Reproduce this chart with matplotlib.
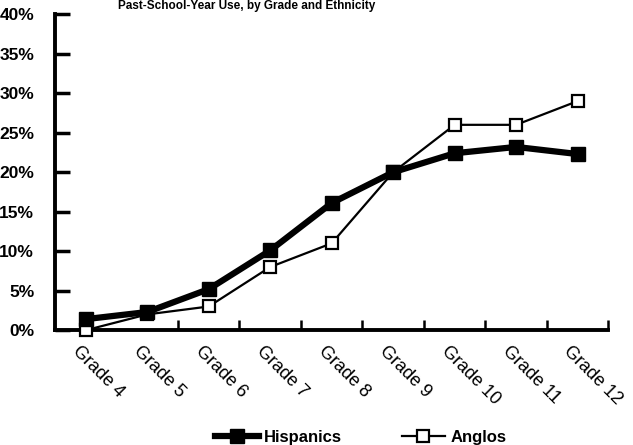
import matplotlib
matplotlib.use("Agg")
import matplotlib.pyplot as plt

plt.rcParams['font.family'] = ['Liberation Sans', 'DejaVu Sans']

# ========= DATA =========
grades = ["Grade 4", "Grade 5", "Grade 6", "Grade 7", "Grade 8",
          "Grade 9", "Grade 10", "Grade 11", "Grade 12"]
hispanics = [1.4, 2.3, 5.2, 10.1, 16.1, 20.0, 22.4, 23.2, 22.3]
anglos = [0.0, 2.0, 3.0, 8.0, 11.0, 20.0, 26.0, 26.0, 29.0]
yticks = [0, 5, 10, 15, 20, 25, 30, 35, 40]
title = "Past-School-Year Use, by Grade and Ethnicity"
# ========================

fig = plt.figure(figsize=(6.33, 4.45), dpi=100)
ax = fig.add_axes([0.087, 0.258, 0.874, 0.71])

x = list(range(len(grades)))
ax.plot(x, anglos, color='black', lw=1.6, marker='s', ms=8,
        mfc='white', mec='black', mew=1.6, zorder=3, clip_on=False,
        label='Anglos')
ax.plot(x, hispanics, color='black', lw=4.5, marker='s', ms=10.5,
        mfc='black', mec='black', zorder=4, clip_on=False,
        label='Hispanics')

ax.set_xlim(-0.5, len(grades) - 0.5)
ax.set_ylim(0, 40)

# y axis: inward ticks, bold percent labels
ax.set_yticks(yticks)
ax.set_yticklabels([f"{v}%" for v in yticks], fontsize=12.5, fontweight='bold')
ax.tick_params(axis='y', direction='in', length=11, width=2.5, pad=15)

# x axis: ticks at category boundaries, labels rotated
ax.set_xticks([i + 0.5 for i in range(1, len(grades))])
ax.set_xticklabels([])
ax.tick_params(axis='x', direction='in', length=7, width=1.8)
for i, g in enumerate(grades):
    ax.text(i - 0.08, -1.6, g, rotation=-45, rotation_mode='anchor',
            ha='left', va='top', fontsize=13)

for s in ['top', 'right']:
    ax.spines[s].set_visible(False)
ax.spines['left'].set_linewidth(2.8)
ax.spines['bottom'].set_linewidth(2.8)

fig.text(0.39, 0.999, title, ha='center', va='top',
         fontsize=8.5, fontweight='bold')

h, l = ax.get_legend_handles_labels()
leg = fig.legend(h[::-1], l[::-1], loc='lower center', ncol=2,
                 bbox_to_anchor=(0.57, -0.034), frameon=False,
                 handlelength=2.6, columnspacing=3.6, handletextpad=0.3,
                 prop={'weight': 'bold', 'size': 12})

fig.savefig("out.png", dpi=100)
